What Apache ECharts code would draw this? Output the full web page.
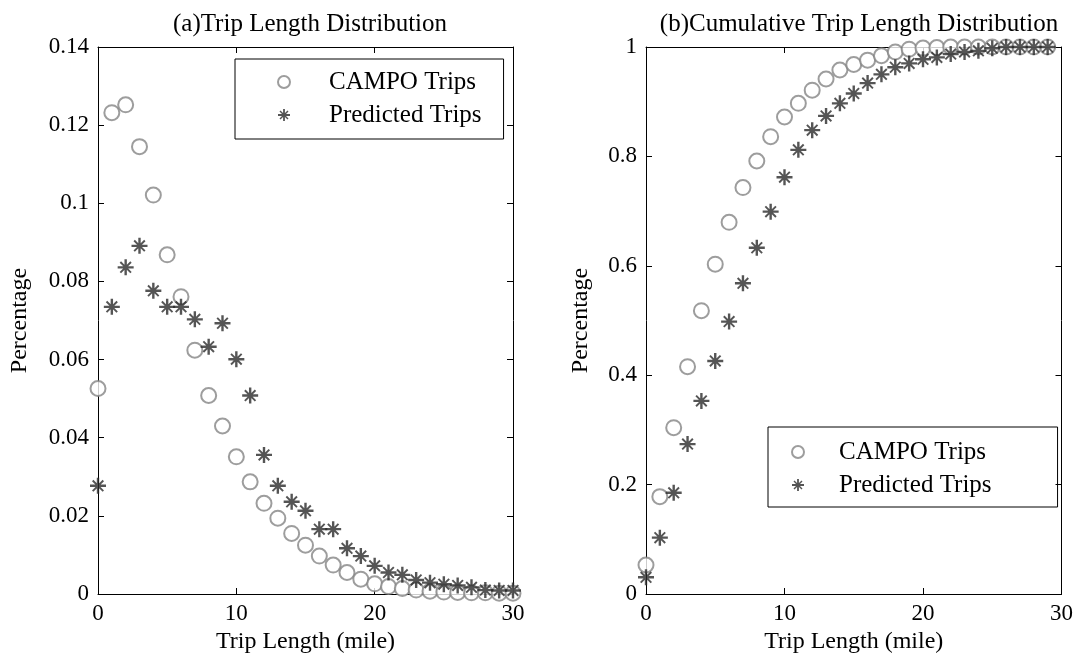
<!DOCTYPE html>
<html>
<head>
<meta charset="utf-8">
<script src="https://cdn.jsdelivr.net/npm/echarts@6/dist/echarts.min.js"></script>
<style>
html,body{margin:0;padding:0;background:#fff;}
#chart{width:1076px;height:663px;}
</style>
</head>
<body>
<div id="chart"></div>
<script>
// trip length (mile) for each panel
var lengthA = [0,1,2,3,4,5,6,7,8,9,10,11,12,13,14,15,16,17,18,19,20,21,22,23,24,25,26,27,28,29,30];
var lengthB = [0,1,2,3,4,5,6,7,8,9,10,11,12,13,14,15,16,17,18,19,20,21,22,23,24,25,26,27,28,29];

// (a) share of trips
var campoShare = [0.0526,0.1232,0.1252,0.1145,0.1021,0.0868,0.0761,0.0624,0.0508,0.043,0.0351,0.0287,0.0232,0.0194,0.0155,0.0125,0.0097,0.0074,0.0055,0.0038,0.0026,0.0019,0.0014,0.001,0.0007,0.0005,0.0004,0.0003,0.0003,0.0002,0.0002];
var predShare = [0.0277,0.0735,0.0836,0.0891,0.0776,0.0735,0.0735,0.0703,0.0633,0.0693,0.0601,0.0508,0.0356,0.0277,0.0236,0.0213,0.0166,0.0166,0.0117,0.0097,0.0072,0.0055,0.0049,0.0036,0.0029,0.0025,0.0022,0.0017,0.001,0.0009,0.0009];

// (b) cumulative share
var campoCum = [0.053,0.178,0.304,0.4156,0.518,0.603,0.6795,0.743,0.7916,0.836,0.872,0.897,0.921,0.9415,0.958,0.968,0.976,0.984,0.991,0.996,0.998,0.999,1,1,1,1,1,1,1,1];
var predCum = [0.0305,0.103,0.185,0.274,0.353,0.426,0.498,0.568,0.633,0.699,0.762,0.812,0.848,0.874,0.897,0.915,0.934,0.95,0.963,0.97,0.9775,0.981,0.987,0.991,0.993,0.9976,1,1,1,1];

var xTicks = [0, 30, 10];       // min, max, interval
var yTicksA = [0, 0.14, 0.02];
var yTicksB = [0, 1, 0.2];

var font = "'Liberation Serif','Times New Roman',serif";
var starPath = 'path://M0 8.5H20V11.5H0Z M8.5 0H11.5V20H8.5Z M4.2 2.5L17.5 15.8L15.8 17.5L2.5 4.2Z M15.8 2.5L17.5 4.2L4.2 17.5L2.5 15.8Z';

function pairs(xs, ys){
	return ys.map(function(v, i){ return [xs[i], v]; });
}
function fmt(v){ return String(+v.toFixed(2)); }

function xAxis(grid, pos, ticks){
	return {
		type:'value', gridIndex:grid, position:pos,
		min:ticks[0], max:ticks[1], interval:ticks[2],
		axisLine:{show:true, onZero:false, lineStyle:{color:'#000', width:1}},
		axisTick:{show:true, inside:true, length:6, lineStyle:{color:'#000'}},
		axisLabel:{show:pos == 'bottom', margin:8, color:'#000', fontFamily:font, fontSize:23},
		splitLine:{show:false},
		name: pos == 'bottom' ? 'Trip Length (mile)' : '',
		nameLocation:'middle', nameGap:35,
		nameTextStyle:{color:'#000', fontFamily:font, fontSize:24}
	};
}
function yAxis(grid, pos, ticks, gap){
	return {
		type:'value', gridIndex:grid, position:pos,
		min:ticks[0], max:ticks[1], interval:ticks[2],
		axisLine:{show:true, onZero:false, lineStyle:{color:'#000', width:1}},
		axisTick:{show:true, inside:true, length:6, lineStyle:{color:'#000'}},
		axisLabel:{show:pos == 'left', margin:9, color:'#000', fontFamily:font, fontSize:23, formatter:fmt},
		splitLine:{show:false},
		name: pos == 'left' ? 'Percentage' : '',
		nameLocation:'middle', nameGap:gap,
		nameTextStyle:{color:'#000', fontFamily:font, fontSize:24}
	};
}

function circles(name, x, y, data){
	return {
		name:name, type:'scatter', xAxisIndex:x, yAxisIndex:y, clip:false,
		symbol:'emptyCircle', symbolSize:15,
		itemStyle:{color:'#858585', borderColor:'#858585', borderWidth:1.4},
		data:data
	};
}
function stars(name, x, y, data){
	return {
		name:name, type:'scatter', xAxisIndex:x, yAxisIndex:y, clip:false,
		symbol:starPath, symbolSize:16,
		itemStyle:{color:'#2a2a2a'},
		data:data
	};
}

// the gap between marker and label is a blank rich block
function legend(left, top, pad, gap){
	return {
		orient:'vertical', left:left, top:top, padding:pad,
		itemWidth:12, itemHeight:12, itemGap:7,
		borderColor:'#000', borderWidth:1, borderRadius:0,
		formatter:function(n){ return '{g|}' + n; },
		textStyle:{color:'#000', fontFamily:font, fontSize:25, lineHeight:26,
			rich:{g:{width:gap}}},
		data:['CAMPO Trips', 'Predicted Trips'],
		selectedMode:false
	};
}

var chart = echarts.init(document.getElementById('chart'));
var option = {
	backgroundColor:'#fff',
	animation:false,
	title:[
		{text:'(a)Trip Length Distribution', left:305, top:7, textAlign:'center',
			textStyle:{color:'#000', fontFamily:font, fontSize:25, fontWeight:'normal'}},
		{text:'(b)Cumulative Trip Length Distribution', left:854, top:7, textAlign:'center',
			textStyle:{color:'#000', fontFamily:font, fontSize:25, fontWeight:'normal'}}
	],
	legend:[
		legend(235, 59, [10, 22, 11, 42], 34),
		legend(768, 427, [12, 66, 9, 23], 30)
	],
	grid:[
		{left:98, top:47, width:415, height:547},
		{left:646, top:47, width:416, height:547}
	],
	xAxis:[
		xAxis(0, 'bottom', xTicks), xAxis(0, 'top', xTicks),
		xAxis(1, 'bottom', xTicks), xAxis(1, 'top', xTicks)
	],
	yAxis:[
		yAxis(0, 'left', yTicksA, 66), yAxis(0, 'right', yTicksA, 0),
		yAxis(1, 'left', yTicksB, 53), yAxis(1, 'right', yTicksB, 0)
	],
	series:[
		circles('CAMPO Trips', 0, 0, pairs(lengthA, campoShare)),
		stars('Predicted Trips', 0, 0, pairs(lengthA, predShare)),
		circles('CAMPO Trips', 2, 2, pairs(lengthB, campoCum)),
		stars('Predicted Trips', 2, 2, pairs(lengthB, predCum))
	]
};
chart.setOption(option);
</script>
</body>
</html>
